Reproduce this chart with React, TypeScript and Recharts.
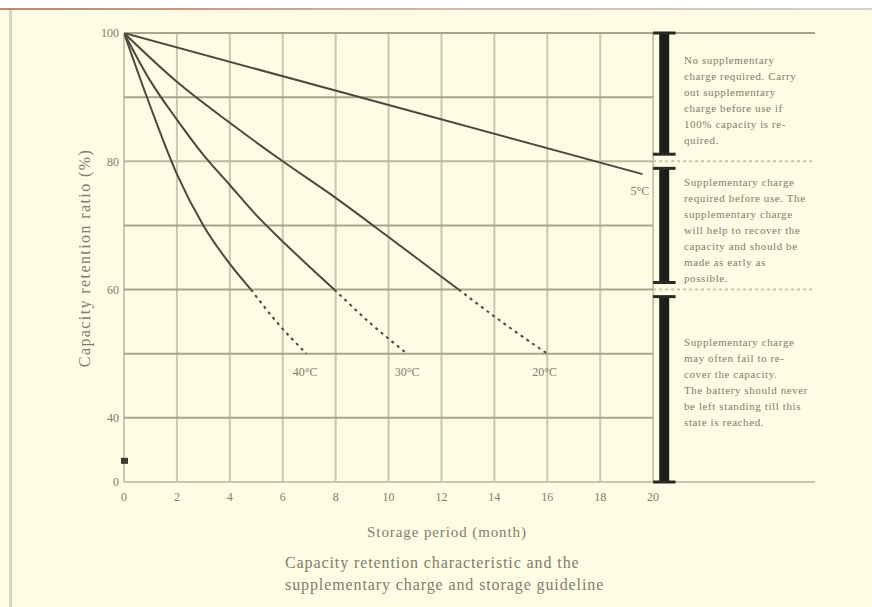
import React from 'react';
import { LineChart, Line, XAxis, YAxis, ReferenceLine, ReferenceDot } from 'recharts';

// ---- data ----
const monthTicks = [0, 2, 4, 6, 8, 10, 12, 14, 16, 18, 20];
const ratioTicks = [30, 40, 50, 60, 70, 80, 90, 100];
const ratioTickLabels: Record<number, string> = { 100: '100', 80: '80', 60: '60', 40: '40', 30: '0' };

const months5 = [0, 19.6];
const ratio5 = [100, 78];

const months20Solid = [0, 2, 4, 6, 8, 10, 12, 12.65];
const ratio20Solid = [100, 92.4, 86, 80, 74.3, 68.2, 62, 60];
const months20Dash = [12.65, 14.3, 16];
const ratio20Dash = [60, 54.9, 50];

const months30Solid = [0, 1, 2, 3, 4, 5, 6, 7, 7.95];
const ratio30Solid = [100, 92.5, 86.5, 81, 76.3, 71.6, 67.5, 63.6, 60];
const months30Dash = [7.95, 9.3, 10.7];
const ratio30Dash = [60, 54.8, 50];

const months40Solid = [0, 1, 2, 3, 4, 4.8];
const ratio40Solid = [100, 88.5, 78, 70, 64, 60];
const months40Dash = [4.8, 5.8, 6.9];
const ratio40Dash = [60, 54.8, 50];

const curveLabels = ['40°C', '30°C', '20°C', '5°C'];
const curveLabelMonths = [6.85, 10.7, 15.9, 19.5];
const curveLabelRatios = [47.2, 47.2, 47.2, 75.4];

const noteBlock1 = ['No supplementary', 'charge required. Carry', 'out supplementary', 'charge before use if', '100% capacity is re-', 'quired.'];
const noteBlock2 = ['Supplementary charge', 'required before use. The', 'supplementary charge', 'will help to recover the', 'capacity and should be', 'made as early as', 'possible.'];
const noteBlock3 = ['Supplementary charge', 'may often fail to re-', 'cover the capacity.', 'The battery should never', 'be left standing till this', 'state is reached.'];

const zoneBreaks = [100, 81.1, 78.9, 61.1, 58.9, 30];

const xTitle = 'Storage period (month)';
const yTitle = 'Capacity retention ratio (%)';
const captionLines = ['Capacity retention characteristic and the', 'supplementary charge and storage guideline'];

// ---- helpers ----
const toPts = (ms: number[], vs: number[]) => ms.map((m, i) => ({ m, v: vs[i] }));

const X_MAX = 26.12;
const BAR_X = 20.42;
const BG = '#FEFCE4';
const LINE = '#4b4a40';
const HGRID = '#A8A58A';
const VGRID = '#CAC7AD';
const TEXT = '#807e6a';
const SERIF = '"Liberation Serif", "DejaVu Serif", serif';

export default function App() {
  const blocks = [
    { lines: noteBlock1, top: 52 },
    { lines: noteBlock2, top: 174 },
    { lines: noteBlock3, top: 334 },
  ];
  return (
    <div style={{ position: 'fixed', left: 0, top: 0, width: 872, height: 607, background: '#ffffff', overflow: 'hidden', fontFamily: SERIF }}>
      <div style={{ position: 'absolute', left: 0, top: 8, width: 872, height: 2, background: 'linear-gradient(to right, #B58A70, #CDB8A8 50%, #D6D2C8)' }} />
      <div style={{ position: 'absolute', left: 0, top: 10, width: 872, height: 597, background: BG }} />
      <div style={{ position: 'absolute', left: 9, top: 10, width: 3, height: 597, background: '#DAD6BE' }} />
      <div style={{ position: 'absolute', left: 0, top: 0 }}>
        <LineChart width={872} height={607} margin={{ top: 33, right: 57, bottom: 95, left: 84 }}>
          <XAxis
            dataKey="m"
            type="number"
            domain={[0, X_MAX]}
            ticks={monthTicks}
            interval={0}
            allowDataOverflow
            axisLine={false}
            tickLine={false}
            tickSize={0}
            tickMargin={10}
            tick={{ fill: TEXT, fontSize: 12, fontFamily: SERIF }}
            height={30}
          />
          <YAxis
            dataKey="v"
            type="number"
            domain={[30, 100]}
            ticks={ratioTicks}
            interval={0}
            allowDataOverflow
            axisLine={false}
            tickLine={false}
            tickSize={0}
            tickMargin={5}
            tickFormatter={(v: number) => ratioTickLabels[v] ?? ''}
            tick={{ fill: TEXT, fontSize: 12, fontFamily: SERIF }}
            width={40}
          />
          {/* vertical grid */}
          {monthTicks.map((m) => (
            <ReferenceLine key={'v' + m} segment={[{ x: m, y: 30 }, { x: m, y: 100 }]} stroke={VGRID} strokeWidth={2} />
          ))}
          {/* horizontal grid */}
          {ratioTicks.map((r) => {
            const full = r === 100 || r === 30;
            return (
              <ReferenceLine
                key={'h' + r}
                segment={[{ x: 0, y: r }, { x: full ? X_MAX : 20, y: r }]}
                stroke={r === 30 ? '#C9C6AC' : r === 80 ? '#BDBA9F' : HGRID}
                strokeWidth={2}
              />
            );
          })}
          {[80, 60].map((r) => (
            <ReferenceLine
              key={'d' + r}
              segment={[{ x: 20, y: r }, { x: X_MAX, y: r }]}
              stroke="#C6C3AA"
              strokeWidth={2}
              strokeDasharray="3 3"
            />
          ))}
          {/* curves */}
          <Line data={toPts(months5, ratio5)} dataKey="v" type="linear" stroke={LINE} strokeWidth={2} dot={false} isAnimationActive={false} />
          <Line data={toPts(months20Solid, ratio20Solid)} dataKey="v" type="monotone" stroke={LINE} strokeWidth={2} dot={false} isAnimationActive={false} />
          <Line data={toPts(months20Dash, ratio20Dash)} dataKey="v" type="monotone" stroke={LINE} strokeWidth={2} strokeDasharray="3 4" dot={false} isAnimationActive={false} />
          <Line data={toPts(months30Solid, ratio30Solid)} dataKey="v" type="monotone" stroke={LINE} strokeWidth={2} dot={false} isAnimationActive={false} />
          <Line data={toPts(months30Dash, ratio30Dash)} dataKey="v" type="monotone" stroke={LINE} strokeWidth={2} strokeDasharray="3 4" dot={false} isAnimationActive={false} />
          <Line data={toPts(months40Solid, ratio40Solid)} dataKey="v" type="monotone" stroke={LINE} strokeWidth={2} dot={false} isAnimationActive={false} />
          <Line data={toPts(months40Dash, ratio40Dash)} dataKey="v" type="monotone" stroke={LINE} strokeWidth={2} strokeDasharray="3 4" dot={false} isAnimationActive={false} />
          {/* zone bar */}
          {[0, 2, 4].map((i) => (
            <ReferenceLine
              key={'bar' + i}
              segment={[{ x: BAR_X, y: zoneBreaks[i] }, { x: BAR_X, y: zoneBreaks[i + 1] }]}
              stroke="#1f1f1a"
              strokeWidth={10}
            />
          ))}
          {zoneBreaks.map((r, i) => (
            <ReferenceLine
              key={'cap' + i}
              segment={[{ x: 20.0, y: r }, { x: 20.85, y: r }]}
              stroke="#2a2a24"
              strokeWidth={3}
            />
          ))}
          {/* axis break mark */}
          <ReferenceDot
            x={0}
            y={33.3}
            r={0}
            shape={(p: any) => <rect x={p.cx - 3} y={p.cy - 3} width={7} height={6} fill="#3a3a32" />}
          />
          {curveLabels.map((t, i) => (
            <ReferenceDot
              key={'lbl' + t}
              x={curveLabelMonths[i]}
              y={curveLabelRatios[i]}
              r={0}
              fill="none"
              stroke="none"
              label={{ value: t, position: 'center', fill: TEXT, fontSize: 12, fontFamily: SERIF }}
            />
          ))}
        </LineChart>
      </div>
      {/* notes */}
      {blocks.map((b, bi) => (
        <div key={'b' + bi} style={{ position: 'absolute', left: 684, top: b.top, fontSize: 11, letterSpacing: 0.6, lineHeight: '16px', color: TEXT, whiteSpace: 'nowrap' }}>
          {b.lines.map((l, li) => (
            <div key={li}>{l}</div>
          ))}
        </div>
      ))}
      {/* axis titles */}
      <div style={{ position: 'absolute', left: 85, top: 258, transform: 'translate(-50%, -50%) rotate(-90deg)', fontSize: 16, letterSpacing: 1.4, color: TEXT, whiteSpace: 'nowrap' }}>{yTitle}</div>
      <div style={{ position: 'absolute', left: 447, top: 532, transform: 'translate(-50%, -50%)', fontSize: 15, letterSpacing: 0.9, color: TEXT, whiteSpace: 'nowrap' }}>{xTitle}</div>
      <div style={{ position: 'absolute', left: 285, top: 552, fontSize: 16, letterSpacing: 0.9, lineHeight: '22px', color: TEXT, whiteSpace: 'nowrap' }}>
        {captionLines.map((l, i) => (
          <div key={i}>{l}</div>
        ))}
      </div>
    </div>
  );
}
